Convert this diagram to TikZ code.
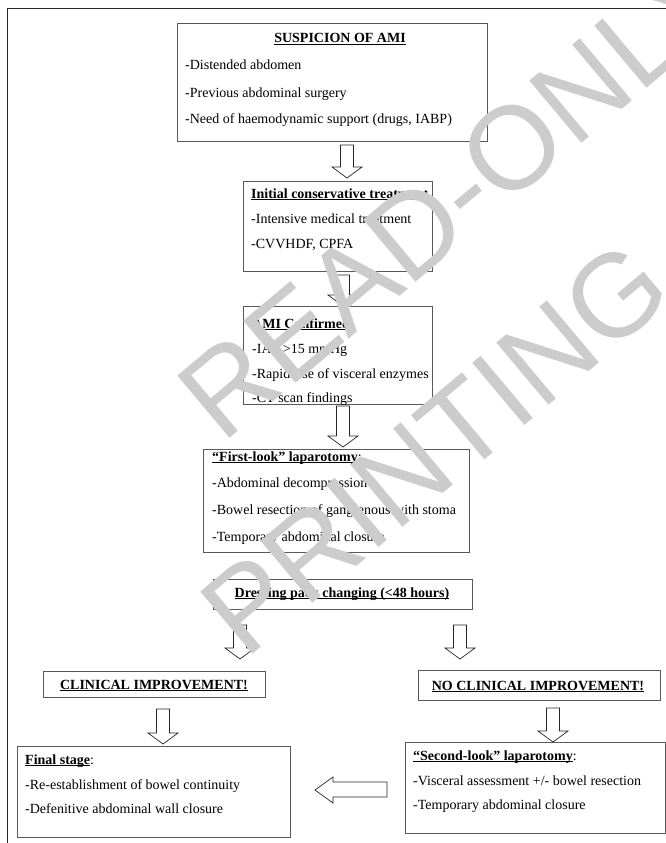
\documentclass[tikz,border=0pt]{standalone}
\usepackage{fontspec}
\setmainfont{Liberation Serif}
\newfontfamily\wmfont{Liberation Sans}
\newcommand\hd[1]{\setbox0\hbox{\bfseries #1}\rlap{\rule[-2pt]{\wd0}{0.7pt}}\box0}
\tikzset{
 box/.style={draw=black!65, line width=1.4pt, fill=white, anchor=north west, inner sep=0pt},
 ln/.style={anchor=base west, inner sep=0pt, font=\fontsize{14}{16}\selectfont},
 ttl/.style={anchor=base, inner sep=0pt, font=\fontsize{14}{16}\selectfont},
 barrow/.style={draw=black!85, line width=0.7pt, fill=white, line join=miter},
 wm/.style={text=black!20, font=\wmfont\fontsize{118}{118}\selectfont, inner sep=0pt}
}
\newcommand\darr[3]{\draw[barrow] (#1-6.5,#2) -- (#1+6.5,#2) -- (#1+6.5,#3-11) -- (#1+15,#3-11) -- (#1,#3) -- (#1-15,#3-11) -- (#1-6.5,#3-11) -- cycle;}
\begin{document}
\begin{tikzpicture}[x=1pt,y=-1pt]
\useasboundingbox (0,0) rectangle (666,843);
\clip (0,0) rectangle (666,843);
\fill[white] (0,0) rectangle (666,843);
\draw[line width=1pt, black!85] (7,860) -- (7,9) -- (690,9);
% boxes
\node[box, minimum width=310pt, minimum height=118pt] (b1) at (177,23) {};
\node[box, minimum width=189pt, minimum height=90pt] (b2) at (243,181) {};
\node[box, minimum width=189pt, minimum height=98pt] (b3) at (243,306) {};
\node[box, minimum width=266pt, minimum height=103pt] (b4) at (203,449) {};
\node[box, minimum width=259pt, minimum height=30pt] (b5) at (213,579) {};
\node[box, minimum width=222pt, minimum height=26pt] (b6) at (43,671) {};
\node[box, minimum width=242pt, minimum height=30pt] (b8) at (418,670) {};
\node[box, minimum width=273pt, minimum height=91pt] (b7) at (17,746) {};
\node[box, minimum width=260pt, minimum height=91pt] (b9) at (405,742) {};
% texts
\node[ttl] (t1) at (340,43) {\hd{SUSPICION OF AMI}};
\node[ln] (t1a) at (185,70) {-Distended abdomen};
\node[ln] (t1b) at (185,97) {-Previous abdominal surgery};
\node[ln] (t1c) at (185,123) {-Need of haemodynamic support (drugs, IABP)};
\node[ln] (t2) at (251,198) {\hd{Initial conservative treatment}};
\node[ln] (t2a) at (251,223) {-Intensive medical treatment};
\node[ln] (t2b) at (251,248) {-CVVHDF, CPFA};
\node[ln] (t3) at (252,328) {\hd{AMI Confirmed}:};
\node[ln] (t3a) at (252,353) {-IAP >15 mmHg};
\node[ln] (t3b) at (252,378) {-Rapid rise of visceral enzymes};
\node[ln] (t3c) at (252,402) {-CT scan findings};
\node[ln] (t4) at (212,461) {\hd{“First-look” laparotomy}:};
\node[ln] (t4a) at (212,487) {-Abdominal decompression};
\node[ln] (t4b) at (212,514) {-Bowel resection of gangrenous with stoma};
\node[ln] (t4c) at (212,541) {-Temporary abdominal closure};
\node[ttl] (t5) at (342,597) {\hd{Dressing pack changing (<48 hours)}};
\node[ttl] (t6) at (154,689) {\hd{CLINICAL IMPROVEMENT!}};
\node[ttl] (t8) at (538,690) {\hd{NO CLINICAL IMPROVEMENT!}};
\node[ln] (t7) at (25,764) {\hd{Final stage}:};
\node[ln] (t7a) at (25,789) {-Re-establishment of bowel continuity};
\node[ln] (t7b) at (25,813) {-Defenitive abdominal wall closure};
\node[ln] (t9) at (413,760) {\hd{“Second-look” laparotomy}:};
\node[ln] (t9a) at (413,785) {-Visceral assessment +/- bowel resection};
\node[ln] (t9b) at (413,809) {-Temporary abdominal closure};
% block arrows
\darr{347}{145}{178}
\darr{343}{275}{306}
\darr{343}{406}{447}
\darr{240}{625}{659}
\darr{460}{625}{659}
\darr{163}{709}{744}
\darr{553}{708}{742}
\draw[barrow] (387,782) -- (387,797) -- (333,797) -- (333,803) -- (315,790) -- (333,777) -- (333,782) -- cycle;
% watermark
\node[wm, rotate=40] (wm1) at (457,195) {READ-ONLY};
\node[wm, rotate=40] (wm2) at (435,448) {PRINTING};
\end{tikzpicture}
\end{document}
